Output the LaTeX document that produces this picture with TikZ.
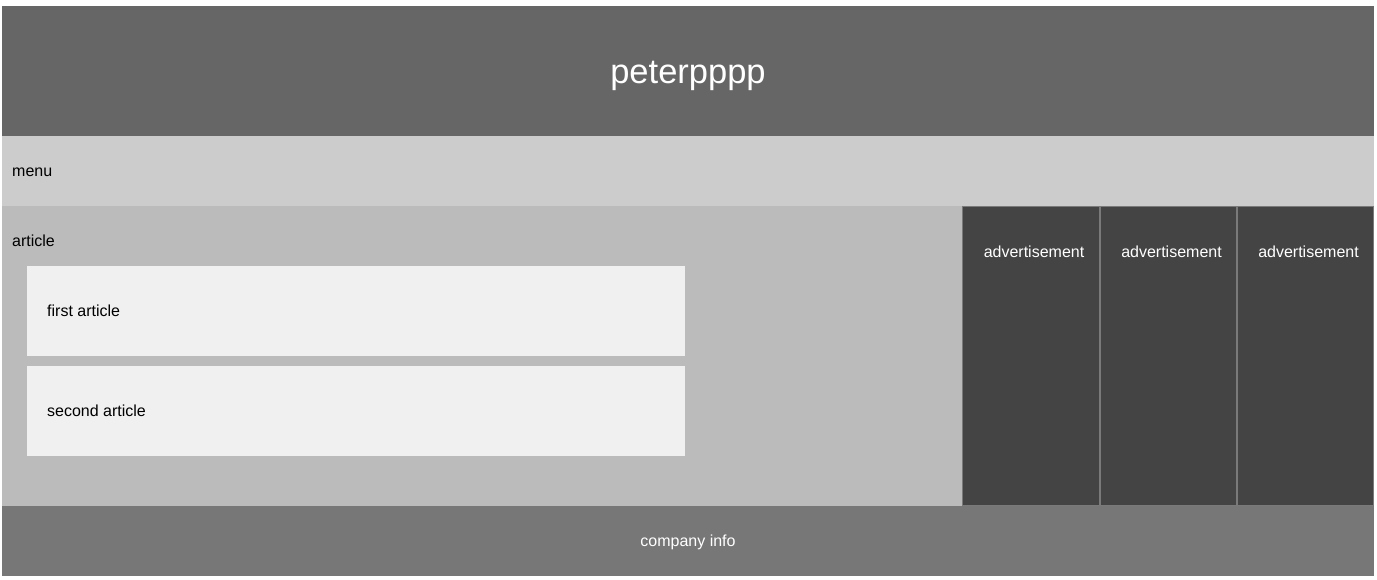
\documentclass[tikz,border=0pt]{standalone}
\usepackage{fontspec}
\setmainfont{Liberation Sans}
\definecolor{hdr}{HTML}{666666}
\definecolor{menuc}{HTML}{CCCCCC}
\definecolor{artc}{HTML}{BBBBBB}
\definecolor{cardc}{HTML}{F0F0F0}
\definecolor{adc}{HTML}{444444}
\definecolor{adb}{HTML}{7A7A7A}
\definecolor{footc}{HTML}{777777}
\tikzset{
  box/.style={inner sep=0pt, outer sep=0pt},
  lbl/.style={inner sep=0pt, anchor=base west, font=\fontsize{16}{16}\selectfont, text=black},
  wlbl/.style={inner sep=0pt, anchor=base, font=\fontsize{16}{16}\selectfont, text=white},
}
\begin{document}
\begin{tikzpicture}[x=1pt,y=-1pt]
\useasboundingbox[fill=white] (0,0) rectangle (1377,579);
% header
\fill[hdr] (2,6) rectangle (1374,136);
\node[inner sep=0pt, anchor=base, font=\fontsize{34.5}{34.5}\selectfont, text=white] (title) at (688,83) {peterpppp};
% menu
\fill[menuc] (2,136) rectangle (1374,206);
\node[lbl] (menu) at (12,176) {menu};
% article area
\fill[artc] (2,206) rectangle (962,506);
\node[lbl] (article) at (12,246) {article};
\fill[cardc] (27,266) rectangle (685,356);
\node[lbl] (first) at (47,316) {first article};
\fill[cardc] (27,366) rectangle (685,456);
\node[lbl] (second) at (47,416) {second article};
% ads
\foreach \a/\b/\n in {962.5/1099.5/ad1, 1100.5/1236.5/ad2, 1237.5/1373.5/ad3}{
  \filldraw[fill=adc, draw=adb, line width=1pt] (\a,206.5) rectangle (\b,505.5);
  \node[wlbl] (\n) at ({(\a+\b)/2+3},257) {advertisement};
}
% footer
\fill[footc] (2,506) rectangle (1374,576);
\node[wlbl] (footer) at (688,546) {company info};
\end{tikzpicture}
\end{document}
